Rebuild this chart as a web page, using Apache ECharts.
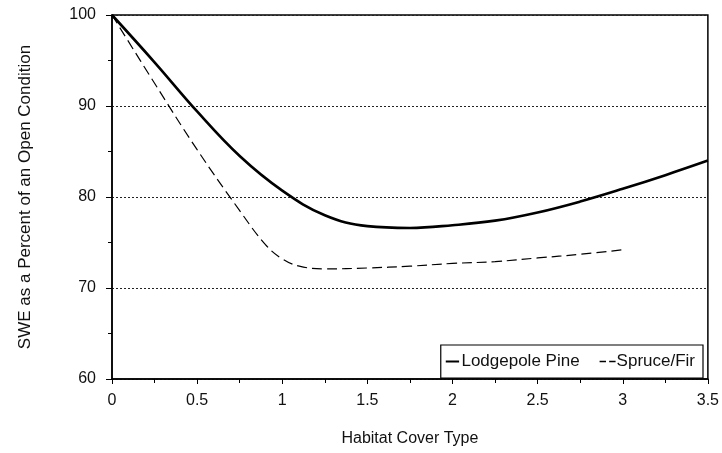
<!DOCTYPE html>
<html><head><meta charset="utf-8">
<script src="https://cdn.jsdelivr.net/npm/echarts@6/dist/echarts.min.js"></script>
<style>html,body{margin:0;padding:0;background:#fff}#c{width:722px;height:453px}</style>
</head><body><div id="c"></div>
<script>
const lodgepoleX = [0, 0.25, 0.5, 0.75, 1, 1.25, 1.5, 1.75, 2, 2.25, 2.5, 2.75, 3, 3.25, 3.5];
const lodgepoleY = [100, 94.8, 89.4, 84.5, 80.7, 78.0, 76.8, 76.6, 76.9, 77.4, 78.3, 79.5, 80.9, 82.4, 84.0];
const spruceX = [0, 0.25, 0.5, 0.75, 0.9, 1, 1.1, 1.25, 1.5, 1.75, 2, 2.25, 2.5, 2.75, 3];
const spruceY = [100, 92.5, 85.2, 78.5, 74.8, 73.2, 72.4, 72.1, 72.2, 72.4, 72.7, 72.9, 73.3, 73.7, 74.2];
const seriesNames = ['Lodgepole Pine', 'Spruce/Fir'];
const xTitle = 'Habitat Cover Type';
const yTitle = 'SWE as a Percent of an Open Condition';

const zip = (xs, ys) => xs.map((x, i) => [x, ys[i]]);
const font = 'Liberation Sans, Arial, sans-serif';
const chart = echarts.init(document.getElementById('c'));
chart.setOption({
  animation: false,
  grid: { left: 112, right: 13, top: 15, bottom: 74, show: true, borderColor: '#000', borderWidth: 1.5 },
  xAxis: {
    type: 'value', min: 0, max: 3.5, interval: 0.5,
    name: xTitle, nameLocation: 'middle', nameGap: 52,
    nameTextStyle: { fontFamily: font, fontSize: 16, color: '#111' },
    axisLine: { show: true, lineStyle: { color: '#000', width: 1.5 } },
    axisTick: { show: true, length: 5, lineStyle: { color: '#000' } },
    minorTick: { show: true, splitNumber: 2, length: 4, lineStyle: { color: '#000' } },
    axisLabel: { fontFamily: font, fontSize: 16, color: '#111', margin: 14 },
    splitLine: { show: false }
  },
  yAxis: {
    type: 'value', min: 60, max: 100, interval: 10,
    name: yTitle, nameLocation: 'middle', nameGap: 78,
    nameTextStyle: { fontFamily: font, fontSize: 17, color: '#111' },
    axisLine: { show: true, lineStyle: { color: '#000', width: 1.5 } },
    axisTick: { show: true, length: 6, lineStyle: { color: '#000' } },
    minorTick: { show: true, splitNumber: 2, length: 4, lineStyle: { color: '#000' } },
    axisLabel: { fontFamily: font, fontSize: 16, color: '#111', margin: 16 },
    splitLine: { show: true, lineStyle: { color: '#222', type: [2, 2], width: 1 } }
  },
  legend: {
    right: 19, bottom: 75,
    orient: 'horizontal',
    backgroundColor: '#fff',
    borderColor: '#000', borderWidth: 1.2, borderRadius: 0,
    padding: [8, 8, 8, 5],
    itemGap: 20, itemWidth: 16, itemHeight: 2,
    textStyle: { fontFamily: font, fontSize: 17, color: '#111', padding: [0, 0, 0, -4] },
    data: [
      { name: seriesNames[0], icon: 'path://M0,0h16v2.4h-16z' },
      { name: seriesNames[1], icon: 'path://M0,0h6v1.4h-6z M9,0h6v1.4h-6z' }
    ]
  },
  series: [
    { name: seriesNames[0], type: 'line', smooth: 0.4, symbol: 'none',
      data: zip(lodgepoleX, lodgepoleY),
      lineStyle: { color: '#000', width: 2.6 }, itemStyle: { color: '#000' } },
    { name: seriesNames[1], type: 'line', smooth: 0.4, symbol: 'none',
      data: zip(spruceX, spruceY),
      lineStyle: { color: '#000', width: 1.2, type: [10, 5] }, itemStyle: { color: '#000' } }
  ]
});
</script></body></html>
